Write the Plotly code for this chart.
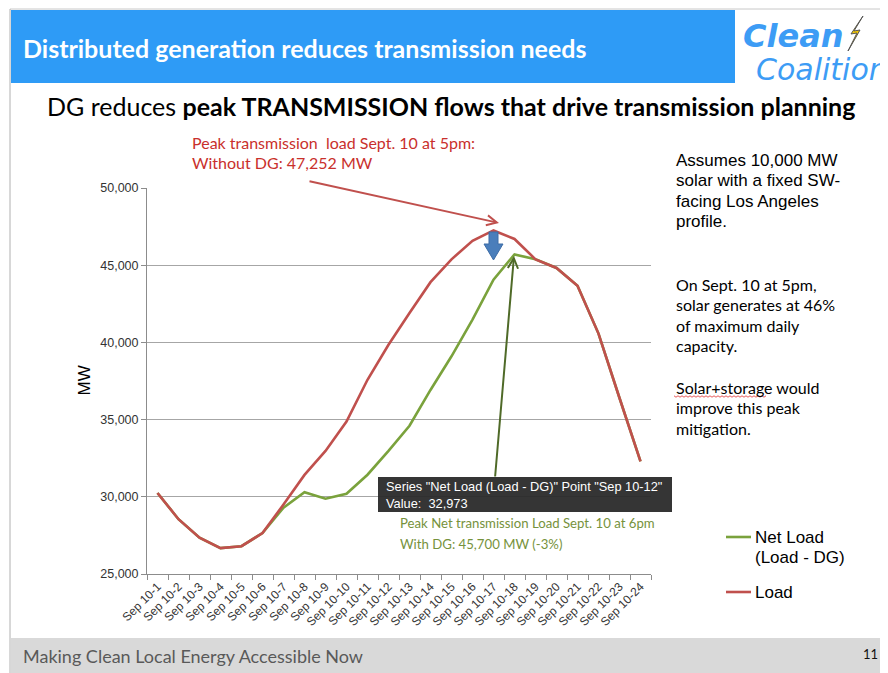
import plotly.graph_objects as go

# ---------------- data ----------------
categories = ["Sep 10-%d" % h for h in range(1, 25)]
load = [30250, 28550, 27350, 26680, 26800, 27650, 29500, 31420, 32970, 34870,
        37580, 39850, 41900, 43900, 45380, 46580, 47252, 46700, 45380, 44820,
        43670, 40570, 36400, 32300]
net_load = [30250, 28550, 27350, 26680, 26800, 27650, 29300, 30300, 29880, 30200,
            31430, 32973, 34600, 36920, 39100, 41480, 44060, 45700, 45380, 44820,
            43670, 40570, 36400, 32300]
y_ticks = [25000, 30000, 35000, 40000, 45000, 50000]

# page has an 8px body margin; figure sized to fill the 888x673 window
OFF = 8
W, H = 880, 665
L, R, T, B = 139, 237, 180, 99
PW = W - L - R
PH = H - T - B


def px(x):
    # x given in window pixels
    return (x - OFF - L) / PW


def py(y):
    return (H - B - (y - OFF)) / PH


RED = "#c0504d"
GREEN = "#7aa23c"
BLUE_BANNER = "#2e9bf6"
CAL = "Lato, 'Open Sans', sans-serif"
ARIAL = "Arial, 'Liberation Sans', sans-serif"

fig = go.Figure()
fig.add_trace(go.Scatter(x=categories, y=net_load, mode="lines", name="Net Load (Load - DG)",
                         line=dict(color=GREEN, width=2.6), hoverinfo="skip"))
fig.add_trace(go.Scatter(x=categories, y=load, mode="lines", name="Load",
                         line=dict(color=RED, width=2.6), hoverinfo="skip"))

shapes = []
ann = []


def rect(x0, y0, x1, y1, fill, line=None, layer="below"):
    shapes.append(dict(type="rect", xref="paper", yref="paper", x0=px(x0), x1=px(x1),
                       y0=py(y1), y1=py(y0), fillcolor=fill, layer=layer,
                       line=dict(width=0) if line is None else line))


def hline(x0, x1, y, color, width=1):
    shapes.append(dict(type="line", xref="paper", yref="paper", x0=px(x0), x1=px(x1),
                       y0=py(y), y1=py(y), line=dict(color=color, width=width)))


def vline(x, y0, y1, color, width=1):
    shapes.append(dict(type="line", xref="paper", yref="paper", x0=px(x), x1=px(x),
                       y0=py(y0), y1=py(y1), line=dict(color=color, width=width)))


def poly(pts, fill, line_color, width=1, layer="above"):
    d = "M " + " L ".join("%f,%f" % (px(a), py(b)) for a, b in pts) + " Z"
    shapes.append(dict(type="path", xref="paper", yref="paper", path=d, fillcolor=fill,
                       layer=layer, line=dict(color=line_color, width=width)))


def text(x, y, s, size, color="#000", family=CAL, xanchor="left", yanchor="middle", **kw):
    ann.append(dict(x=px(x), y=py(y), xref="paper", yref="paper", text=s, showarrow=False,
                    xanchor=xanchor, yanchor=yanchor, align="left",
                    font=dict(size=size, color=color, family=family), **kw))


# slide frame
hline(10, 888, 9, "#c8c8c8")
vline(10, 9, 673, "#b0b0b0")
# header banner
rect(11, 10, 735, 83, BLUE_BANNER)
text(21, 48, "<b>Distributed generation reduces transmission needs</b>", 25, "white")
# logo
text(741, 36, "<b><i>Clean</i></b>", 32, "#3d9cf5", family="'DejaVu Sans', sans-serif")
text(754, 69, "<i>Coalition</i>", 30, "#3d9cf5", family="'DejaVu Sans', sans-serif")
poly([(863, 16), (851, 34), (857, 33), (848, 51), (860, 30), (854, 31)], "#f5c800", "#555555", 1)
# subtitle
text(45, 106, "DG reduces <b>peak TRANSMISSION flows that drive transmission planning</b>", 25)
# footer
rect(11, 638, 888, 673, "#d9d9d9")
text(21, 656, "Making Clean Local Energy Accessible Now", 18, "#595959")
text(861, 654, "11", 13, "#111")

# y axis title
ann.append(dict(x=px(72), y=py(381), xref="paper", yref="paper", text="MW", showarrow=False,
                textangle=-90, font=dict(size=17, color="#000", family=ARIAL)))

# red annotation
text(190, 142, "Peak transmission  load Sept. 10 at 5pm:", 16, "#c9302c")
text(190, 162, "Without DG: 47,252 MW", 16, "#c9302c")
ann.append(dict(x=px(499), y=py(223), xref="paper", yref="paper", text="", showarrow=True,
                ax=308 - 499, ay=181 - 223, axref="pixel", ayref="pixel",
                arrowhead=5, arrowsize=1, arrowwidth=2, arrowcolor=RED))

# blue block arrow
poly([(489, 232), (498, 232), (498, 244), (503, 244), (493.5, 260), (484, 244), (489, 244)],
     "#4a7ebb", "#3d6ca6", 1)

# green arrow from annotation to net peak
ann.append(dict(x=px(514), y=py(256), xref="paper", yref="paper", text="", showarrow=True,
                ax=495 - 514, ay=478 - 256, axref="pixel", ayref="pixel",
                arrowhead=5, arrowsize=1, arrowwidth=2, arrowcolor="#4f6a28"))

# tooltip
rect(378, 477, 672, 512, "rgba(40,40,40,0.94)", layer="above")
text(384, 486, 'Series "Net Load (Load - DG)" Point "%s"' % categories[11], 12.8, "white", family=ARIAL)
text(384, 503, "Value:  {:,}".format(net_load[11]), 12.8, "white", family=ARIAL)

# green annotation
text(398, 523, "Peak Net transmission Load Sept. 10 at 6pm", 13.2, "#76923c")
text(398, 544, "With DG: 45,700 MW (-3%)", 13.2, "#76923c")

# right notes
for i, s in enumerate(["Assumes 10,000 MW", "solar with a fixed SW-", "facing Los Angeles", "profile."]):
    text(674, 160 + i * 20.5, s, 17, "#000", family=ARIAL)
for i, s in enumerate(["On Sept. 10 at 5pm,", "solar generates at 46%", "of maximum daily", "capacity."]):
    text(674, 284 + i * 20.5, s, 16, "#000")
for i, s in enumerate(["Solar+storage would", "improve this peak", "mitigation."]):
    text(674, 387 + i * 20.5, s, 16, "#000")
# spell-check squiggle under "Solar+storage"
zig = []
xx = 674.0
k = 0
while xx <= 766:
    zig.append("%f,%f" % (px(xx), py(396 + (1.2 if k % 2 else -0.2))))
    xx += 2
    k += 1
shapes.append(dict(type="path", xref="paper", yref="paper", path="M " + " L ".join(zig),
                   line=dict(color="#e03030", width=0.8)))

# legend (manual)
hline(726, 751, 537, GREEN, 2.6)
hline(726, 751, 592, RED, 2.6)
text(753, 537, "Net Load", 17, "#000", family=ARIAL)
text(753, 557, "(Load - DG)", 17, "#000", family=ARIAL)
text(753, 592, "Load", 17, "#000", family=ARIAL)

fig.update_layout(
    width=W, height=H, autosize=False,
    margin=dict(l=L, r=R, t=T, b=B, pad=0),
    paper_bgcolor="white", plot_bgcolor="white",
    showlegend=False,
    shapes=shapes, annotations=ann,
    xaxis=dict(type="category", categoryorder="array", categoryarray=categories,
               range=[-0.5, len(categories) - 0.5],
               tickangle=-45, ticks="outside", ticklen=5, tickson="boundaries",
               tickcolor="#8c8c8c", showline=True, linecolor="#8c8c8c", linewidth=1,
               showgrid=False, tickfont=dict(family=ARIAL, size=12, color="#333")),
    yaxis=dict(range=[25000, 50000], tickvals=y_ticks, tickformat=",d",
               ticks="outside", ticklen=5, tickcolor="#8c8c8c",
               showline=True, linecolor="#8c8c8c", linewidth=1,
               showgrid=True, gridcolor="#a6a6a6", gridwidth=1, zeroline=False,
               tickfont=dict(family=ARIAL, size=12.5, color="#333")),
)

fig.write_html("out.html")
